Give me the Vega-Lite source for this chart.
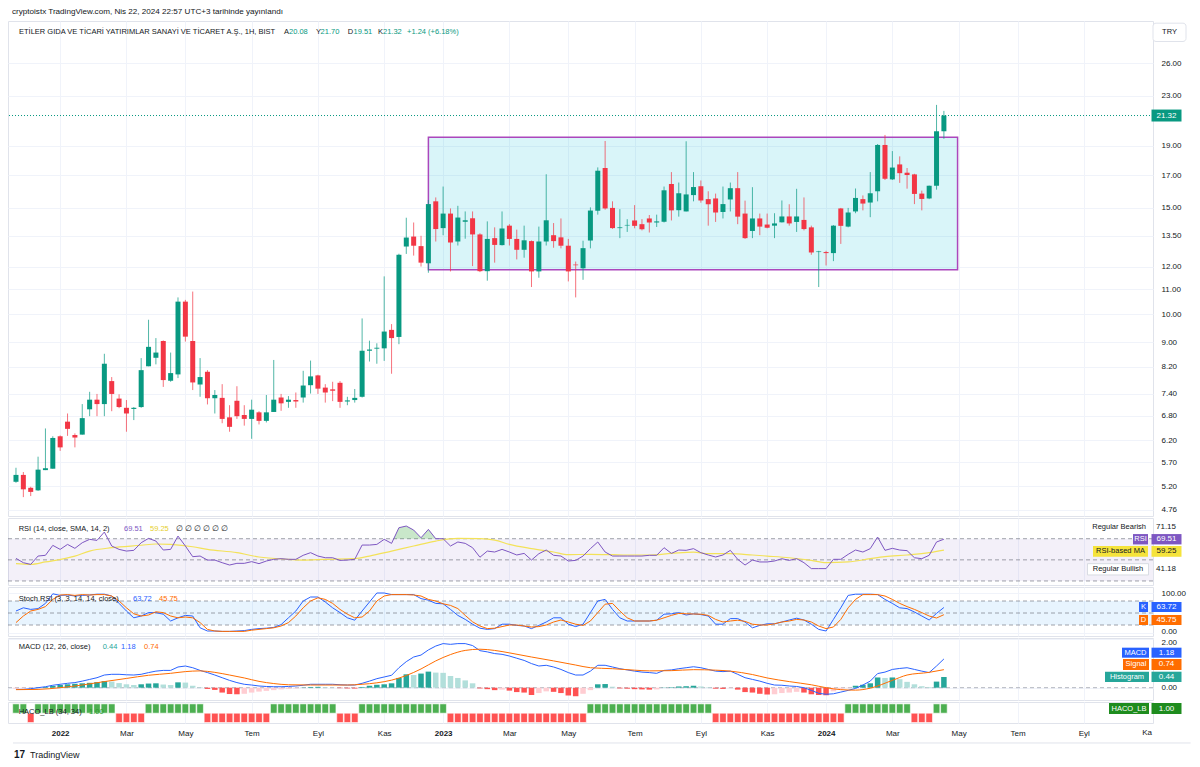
{
"$schema": "https://vega.github.io/schema/vega-lite/v6.json",
"background": "white",
"padding": {"left": 7, "top": 7, "right": 5, "bottom": 5},
"spacing": 2,
"bounds": "flush",
"config": {"view": {"stroke": "#e0e3eb", "fill": "white"}, "font": "Liberation Sans", "text": {"font": "Liberation Sans"}, "axis": {"labelFont": "Liberation Sans"}},
"resolve": {"scale": {"x": "independent", "y": "independent"}},
"datasets": {
"w": [
{"d":"2021-11-22","o":5.29,"h":5.58,"l":5.27,"c":5.43,"r":51.4,"k":55,"s":26,"m":-0.07,"hi":-0.04,"ha":1},
{"d":"2021-11-29","o":5.43,"h":5.49,"l":4.99,"c":5.14,"r":47.3,"k":63,"s":42.5,"m":-0.07,"hi":-0.03,"ha":1},
{"d":"2021-12-06","o":5.17,"h":5.19,"l":5.01,"c":5.09,"r":45.7,"k":59,"s":55,"m":-0.04,"hi":-0.02,"ha":-1},
{"d":"2021-12-13","o":5.12,"h":5.82,"l":5.11,"c":5.54,"r":53.6,"k":61,"s":59,"m":0,"hi":0.01,"ha":1},
{"d":"2021-12-20","o":5.53,"h":6.48,"l":5.53,"c":5.57,"r":54.3,"k":74,"s":66,"m":0.04,"hi":0.03,"ha":1},
{"d":"2021-12-27","o":5.56,"h":6.29,"l":5.56,"c":6.25,"r":63.7,"k":98,"s":84,"m":0.10,"hi":0.07,"ha":1},
{"d":"2022-01-03","o":6.29,"h":6.31,"l":5.95,"c":6.03,"r":59.9,"k":94,"s":95,"m":0.14,"hi":0.11,"ha":1},
{"d":"2022-01-10","o":6.65,"h":6.86,"l":6.30,"c":6.47,"r":64.6,"k":95,"s":96,"m":0.18,"hi":0.14,"ha":1},
{"d":"2022-01-17","o":6.32,"h":6.36,"l":6.03,"c":6.26,"r":60.9,"k":92.5,"s":94,"m":0.21,"hi":0.16,"ha":1},
{"d":"2022-01-24","o":6.33,"h":7.11,"l":6.33,"c":6.74,"r":66.2,"k":94,"s":96,"m":0.27,"hi":0.18,"ha":1},
{"d":"2022-01-31","o":6.97,"h":7.45,"l":6.79,"c":7.23,"r":69.4,"k":95,"s":95,"m":0.34,"hi":0.20,"ha":1},
{"d":"2022-02-07","o":7.23,"h":7.39,"l":6.79,"c":7.11,"r":68.4,"k":97,"s":96,"m":0.41,"hi":0.23,"ha":1},
{"d":"2022-02-14","o":7.11,"h":8.61,"l":6.79,"c":8.29,"r":76.3,"k":97,"s":96,"m":0.52,"hi":0.27,"ha":1},
{"d":"2022-02-21","o":7.76,"h":7.88,"l":6.92,"c":7.39,"r":63.1,"k":92.5,"s":92.5,"m":0.55,"hi":0.25,"ha":1},
{"d":"2022-02-28","o":7.26,"h":7.38,"l":7.00,"c":7.03,"r":59.9,"k":74,"s":80,"m":0.55,"hi":0.19,"ha":-1},
{"d":"2022-03-07","o":7.01,"h":7.22,"l":6.40,"c":6.86,"r":58.3,"k":55,"s":63,"m":0.53,"hi":0.14,"ha":-1},
{"d":"2022-03-14","o":6.98,"h":7.03,"l":6.69,"c":7.01,"r":59.0,"k":38,"s":48,"m":0.52,"hi":0.11,"ha":-1},
{"d":"2022-03-21","o":7.03,"h":8.47,"l":7.01,"c":8.09,"r":66.2,"k":42.5,"s":42.5,"m":0.55,"hi":0.14,"ha":-1},
{"d":"2022-03-28","o":8.21,"h":9.80,"l":8.21,"c":8.84,"r":70.3,"k":51,"s":45,"m":0.62,"hi":0.17,"ha":1},
{"d":"2022-04-04","o":8.48,"h":9.14,"l":8.27,"c":8.65,"r":67.8,"k":51,"s":53,"m":0.68,"hi":0.18,"ha":1},
{"d":"2022-04-11","o":9.04,"h":9.06,"l":7.59,"c":7.79,"r":59.3,"k":47,"s":51,"m":0.71,"hi":0.13,"ha":1},
{"d":"2022-04-18","o":7.77,"h":8.65,"l":7.74,"c":8.00,"r":59.9,"k":30,"s":42.5,"m":0.71,"hi":0.11,"ha":1},
{"d":"2022-04-25","o":7.96,"h":10.67,"l":7.85,"c":10.50,"r":72.5,"k":38,"s":38,"m":0.85,"hi":0.22,"ha":1},
{"d":"2022-05-02","o":10.50,"h":10.57,"l":9.02,"c":9.19,"r":63.1,"k":44,"s":40,"m":0.89,"hi":0.21,"ha":1},
{"d":"2022-05-09","o":9.04,"h":10.91,"l":7.50,"c":7.72,"r":53.0,"k":42.5,"s":38,"m":0.82,"hi":0.08,"ha":1},
{"d":"2022-05-16","o":7.66,"h":8.47,"l":7.31,"c":7.88,"r":53.6,"k":13,"s":26,"m":0.71,"hi":0.02,"ha":1},
{"d":"2022-05-23","o":8.04,"h":8.09,"l":7.10,"c":7.27,"r":49.8,"k":5,"s":9,"m":0.62,"hi":-0.05,"ha":-1},
{"d":"2022-05-30","o":7.27,"h":7.50,"l":6.86,"c":7.36,"r":49.8,"k":5,"s":5,"m":0.52,"hi":-0.09,"ha":-1},
{"d":"2022-06-06","o":7.28,"h":7.67,"l":6.61,"c":6.72,"r":47.3,"k":4,"s":4,"m":0.41,"hi":-0.20,"ha":-1},
{"d":"2022-06-13","o":6.76,"h":7.08,"l":6.40,"c":6.52,"r":45.1,"k":4,"s":4,"m":0.30,"hi":-0.26,"ha":-1},
{"d":"2022-06-20","o":7.20,"h":7.61,"l":6.72,"c":6.79,"r":46.7,"k":5,"s":4,"m":0.21,"hi":-0.27,"ha":-1},
{"d":"2022-06-27","o":6.82,"h":7.08,"l":6.55,"c":6.72,"r":46.7,"k":6,"s":4,"m":0.14,"hi":-0.25,"ha":-1},
{"d":"2022-07-04","o":6.72,"h":7.23,"l":6.23,"c":6.96,"r":48.3,"k":9,"s":7,"m":0.11,"hi":-0.20,"ha":-1},
{"d":"2022-07-11","o":6.89,"h":6.92,"l":6.58,"c":6.67,"r":46.4,"k":11,"s":9,"m":0.07,"hi":-0.16,"ha":-1},
{"d":"2022-07-18","o":6.67,"h":7.36,"l":6.63,"c":6.89,"r":48.9,"k":12,"s":11,"m":0.05,"hi":-0.13,"ha":-1},
{"d":"2022-07-25","o":6.90,"h":8.41,"l":6.90,"c":7.23,"r":50.5,"k":14,"s":13,"m":0.04,"hi":-0.10,"ha":1},
{"d":"2022-08-01","o":7.29,"h":7.39,"l":6.93,"c":7.13,"r":51.1,"k":21,"s":17.5,"m":0.04,"hi":-0.07,"ha":1},
{"d":"2022-08-08","o":7.17,"h":7.33,"l":7.01,"c":7.23,"r":50.5,"k":38,"s":26,"m":0.05,"hi":-0.05,"ha":1},
{"d":"2022-08-15","o":7.22,"h":7.43,"l":7.01,"c":7.18,"r":50.5,"k":55,"s":42.5,"m":0.07,"hi":-0.03,"ha":1},
{"d":"2022-08-22","o":7.29,"h":8.07,"l":7.15,"c":7.63,"r":54.3,"k":80,"s":63,"m":0.10,"hi":0.01,"ha":1},
{"d":"2022-08-29","o":7.64,"h":8.39,"l":7.40,"c":7.90,"r":56.8,"k":90,"s":80,"m":0.14,"hi":0.03,"ha":1},
{"d":"2022-09-05","o":7.93,"h":7.95,"l":7.39,"c":7.54,"r":53.6,"k":90,"s":88,"m":0.14,"hi":0.035,"ha":1},
{"d":"2022-09-12","o":7.57,"h":7.67,"l":7.15,"c":7.43,"r":52.0,"k":77.5,"s":84,"m":0.14,"hi":0.02,"ha":1},
{"d":"2022-09-19","o":7.52,"h":7.74,"l":7.19,"c":7.48,"r":52.0,"k":63,"s":74,"m":0.14,"hi":0.01,"ha":1},
{"d":"2022-09-26","o":7.71,"h":7.76,"l":7.01,"c":7.17,"r":49.5,"k":51,"s":59,"m":0.12,"hi":-0.02,"ha":-1},
{"d":"2022-10-03","o":7.18,"h":7.31,"l":7.08,"c":7.21,"r":49.8,"k":38,"s":47,"m":0.11,"hi":-0.03,"ha":-1},
{"d":"2022-10-10","o":7.22,"h":7.53,"l":7.15,"c":7.28,"r":50.5,"k":32,"s":38,"m":0.11,"hi":-0.035,"ha":-1},
{"d":"2022-10-17","o":7.31,"h":9.85,"l":7.29,"c":8.71,"r":64.0,"k":55,"s":40,"m":0.18,"hi":0.03,"ha":1},
{"d":"2022-10-24","o":8.71,"h":9.05,"l":8.36,"c":8.75,"r":64.0,"k":77.5,"s":55,"m":0.27,"hi":0.08,"ha":1},
{"d":"2022-10-31","o":8.78,"h":8.96,"l":8.29,"c":8.81,"r":64.6,"k":100,"s":80,"m":0.37,"hi":0.12,"ha":1},
{"d":"2022-11-07","o":8.79,"h":11.56,"l":8.38,"c":9.37,"r":69.4,"k":100,"s":92.5,"m":0.44,"hi":0.14,"ha":1},
{"d":"2022-11-14","o":9.43,"h":9.64,"l":7.98,"c":9.14,"r":65.6,"k":96,"s":96,"m":0.51,"hi":0.18,"ha":1},
{"d":"2022-11-21","o":9.18,"h":12.6,"l":8.93,"c":12.55,"r":80.4,"k":96,"s":96,"m":0.82,"hi":0.40,"ha":1},
{"d":"2022-11-28","o":12.95,"h":14.45,"l":12.59,"c":13.40,"r":82.0,"k":96,"s":96,"m":1.07,"hi":0.55,"ha":1},
{"d":"2022-12-05","o":13.45,"h":14.19,"l":12.51,"c":12.99,"r":78.2,"k":96,"s":95,"m":1.26,"hi":0.52,"ha":1},
{"d":"2022-12-12","o":12.97,"h":13.49,"l":12.00,"c":12.18,"r":70.9,"k":86,"s":92.5,"m":1.34,"hi":0.58,"ha":1},
{"d":"2022-12-19","o":12.15,"h":15.46,"l":11.72,"c":15.22,"r":78.8,"k":82,"s":84,"m":1.55,"hi":0.66,"ha":1},
{"d":"2022-12-26","o":15.38,"h":15.61,"l":13.20,"c":13.84,"r":70.0,"k":74,"s":80,"m":1.71,"hi":0.62,"ha":1},
{"d":"2023-01-02","o":13.89,"h":16.27,"l":13.52,"c":14.68,"r":70.0,"k":73,"s":73,"m":1.81,"hi":0.61,"ha":1},
{"d":"2023-01-09","o":14.68,"h":14.97,"l":11.78,"c":13.15,"r":63.1,"k":59,"s":69,"m":1.78,"hi":0.48,"ha":-1},
{"d":"2023-01-16","o":13.20,"h":15.12,"l":13.00,"c":14.46,"r":66.9,"k":44,"s":61,"m":1.81,"hi":0.40,"ha":-1},
{"d":"2023-01-23","o":14.23,"h":14.80,"l":13.34,"c":14.31,"r":65.6,"k":34,"s":44,"m":1.81,"hi":0.30,"ha":-1},
{"d":"2023-01-30","o":14.42,"h":14.80,"l":12.02,"c":13.56,"r":61.5,"k":22,"s":28,"m":1.73,"hi":0.18,"ha":-1},
{"d":"2023-02-06","o":13.56,"h":13.62,"l":11.75,"c":11.79,"r":52.5,"k":12,"s":17.5,"m":1.52,"hi":-0.03,"ha":-1},
{"d":"2023-02-13","o":11.79,"h":14.25,"l":11.37,"c":13.33,"r":58.3,"k":9,"s":11,"m":1.47,"hi":-0.06,"ha":-1},
{"d":"2023-02-20","o":13.37,"h":13.93,"l":12.18,"c":13.03,"r":57.4,"k":11,"s":12,"m":1.40,"hi":-0.10,"ha":-1},
{"d":"2023-02-27","o":13.02,"h":14.80,"l":13.00,"c":13.87,"r":59.9,"k":22,"s":16,"m":1.37,"hi":-0.08,"ha":-1},
{"d":"2023-03-06","o":14.02,"h":14.10,"l":13.00,"c":13.33,"r":57.4,"k":22,"s":20,"m":1.30,"hi":-0.12,"ha":-1},
{"d":"2023-03-13","o":13.33,"h":13.81,"l":12.33,"c":12.79,"r":54.6,"k":19,"s":20,"m":1.21,"hi":-0.18,"ha":-1},
{"d":"2023-03-20","o":12.79,"h":14.02,"l":12.41,"c":13.26,"r":56.1,"k":17.5,"s":17.5,"m":1.12,"hi":-0.20,"ha":-1},
{"d":"2023-03-27","o":13.22,"h":13.25,"l":11.10,"c":11.78,"r":49.8,"k":11,"s":15,"m":0.99,"hi":-0.30,"ha":-1},
{"d":"2023-04-03","o":11.78,"h":13.97,"l":11.50,"c":13.20,"r":55.8,"k":19,"s":16,"m":0.89,"hi":-0.22,"ha":-1},
{"d":"2023-04-10","o":13.20,"h":17.05,"l":13.00,"c":14.31,"r":59.3,"k":27.5,"s":20,"m":0.92,"hi":-0.15,"ha":-1},
{"d":"2023-04-17","o":13.52,"h":14.16,"l":12.89,"c":13.22,"r":54.3,"k":38,"s":27.5,"m":0.85,"hi":-0.17,"ha":-1},
{"d":"2023-04-24","o":13.41,"h":14.41,"l":12.86,"c":12.99,"r":53.6,"k":38,"s":32.5,"m":0.75,"hi":-0.22,"ha":-1},
{"d":"2023-05-01","o":12.99,"h":13.33,"l":11.34,"c":11.78,"r":48.9,"k":22,"s":27.5,"m":0.62,"hi":-0.32,"ha":-1},
{"d":"2023-05-08","o":12.09,"h":12.23,"l":10.67,"c":12.06,"r":49.5,"k":16,"s":22,"m":0.52,"hi":-0.35,"ha":-1},
{"d":"2023-05-15","o":11.92,"h":13.24,"l":11.41,"c":12.87,"r":53.6,"k":22,"s":19,"m":0.52,"hi":-0.25,"ha":-1},
{"d":"2023-05-22","o":13.25,"h":15.03,"l":12.86,"c":14.85,"r":60.6,"k":51,"s":30,"m":0.68,"hi":-0.10,"ha":1},
{"d":"2023-05-29","o":14.84,"h":17.50,"l":14.62,"c":17.28,"r":66.9,"k":80,"s":51,"m":0.92,"hi":0.14,"ha":1},
{"d":"2023-06-05","o":17.46,"h":19.35,"l":14.90,"c":14.97,"r":57.4,"k":84,"s":72,"m":0.92,"hi":0.15,"ha":1},
{"d":"2023-06-12","o":15.00,"h":15.38,"l":13.85,"c":13.89,"r":53.6,"k":59,"s":74,"m":0.85,"hi":0.04,"ha":1},
{"d":"2023-06-19","o":13.89,"h":14.93,"l":13.37,"c":13.93,"r":53.6,"k":38,"s":55,"m":0.78,"hi":-0.03,"ha":1},
{"d":"2023-06-26","o":14.03,"h":14.37,"l":13.69,"c":14.06,"r":53.6,"k":30,"s":38,"m":0.73,"hi":-0.04,"ha":1},
{"d":"2023-07-03","o":14.30,"h":15.16,"l":13.88,"c":14.01,"r":53.6,"k":30,"s":30,"m":0.68,"hi":-0.06,"ha":1},
{"d":"2023-07-10","o":14.10,"h":14.37,"l":13.77,"c":13.83,"r":53.6,"k":30,"s":30,"m":0.64,"hi":-0.07,"ha":1},
{"d":"2023-07-17","o":14.41,"h":14.60,"l":13.66,"c":14.19,"r":54.3,"k":30,"s":30,"m":0.62,"hi":-0.08,"ha":1},
{"d":"2023-07-24","o":14.19,"h":14.62,"l":13.95,"c":14.25,"r":54.3,"k":32,"s":32,"m":0.59,"hi":-0.07,"ha":1},
{"d":"2023-07-31","o":14.23,"h":16.27,"l":14.19,"c":16.04,"r":61.5,"k":47,"s":38,"m":0.71,"hi":0.01,"ha":1},
{"d":"2023-08-07","o":16.43,"h":17.19,"l":14.30,"c":14.86,"r":56.1,"k":48,"s":44,"m":0.73,"hi":0.02,"ha":1},
{"d":"2023-08-14","o":14.87,"h":16.52,"l":14.51,"c":15.86,"r":59.3,"k":51,"s":49,"m":0.78,"hi":0.05,"ha":1},
{"d":"2023-08-21","o":14.80,"h":19.33,"l":14.80,"c":15.79,"r":59.0,"k":45,"s":48,"m":0.82,"hi":0.06,"ha":1},
{"d":"2023-08-28","o":15.75,"h":17.19,"l":15.38,"c":16.24,"r":60.6,"k":48,"s":47.5,"m":0.86,"hi":0.08,"ha":1},
{"d":"2023-09-04","o":16.29,"h":16.65,"l":15.30,"c":15.43,"r":56.8,"k":46,"s":47,"m":0.82,"hi":0.05,"ha":1},
{"d":"2023-09-11","o":15.51,"h":15.98,"l":14.02,"c":15.21,"r":54.6,"k":42.5,"s":44,"m":0.75,"hi":0.02,"ha":1},
{"d":"2023-09-18","o":15.55,"h":15.84,"l":14.22,"c":14.74,"r":52.7,"k":22,"s":34,"m":0.68,"hi":-0.04,"ha":-1},
{"d":"2023-09-25","o":14.77,"h":16.27,"l":14.41,"c":15.22,"r":54.6,"k":22,"s":27.5,"m":0.66,"hi":-0.05,"ha":-1},
{"d":"2023-10-02","o":15.49,"h":16.52,"l":14.80,"c":16.17,"r":59.0,"k":36,"s":30,"m":0.68,"hi":-0.02,"ha":-1},
{"d":"2023-10-09","o":16.17,"h":17.19,"l":14.10,"c":14.51,"r":50.5,"k":36,"s":32,"m":0.55,"hi":-0.08,"ha":-1},
{"d":"2023-10-16","o":14.68,"h":15.42,"l":13.33,"c":13.37,"r":45.1,"k":27.5,"s":29,"m":0.41,"hi":-0.18,"ha":-1},
{"d":"2023-10-23","o":13.74,"h":16.23,"l":13.37,"c":14.41,"r":49.8,"k":13,"s":22,"m":0.34,"hi":-0.20,"ha":-1},
{"d":"2023-10-30","o":14.41,"h":14.68,"l":13.52,"c":13.97,"r":48.0,"k":19,"s":20,"m":0.27,"hi":-0.25,"ha":-1},
{"d":"2023-11-06","o":14.08,"h":14.68,"l":13.88,"c":13.91,"r":48.0,"k":23,"s":20,"m":0.18,"hi":-0.28,"ha":-1},
{"d":"2023-11-13","o":14.02,"h":14.70,"l":13.37,"c":14.14,"r":48.9,"k":23,"s":23,"m":0.11,"hi":-0.27,"ha":-1},
{"d":"2023-11-20","o":14.20,"h":15.43,"l":14.19,"c":14.52,"r":51.1,"k":27.5,"s":27.5,"m":0.10,"hi":-0.22,"ha":-1},
{"d":"2023-11-27","o":14.52,"h":15.21,"l":14.02,"c":14.14,"r":49.5,"k":32.5,"s":30,"m":0.07,"hi":-0.20,"ha":-1},
{"d":"2023-12-04","o":14.22,"h":16.13,"l":13.69,"c":14.52,"r":51.1,"k":37,"s":34,"m":0.05,"hi":-0.17,"ha":-1},
{"d":"2023-12-11","o":14.33,"h":15.61,"l":13.77,"c":13.84,"r":47.3,"k":32.5,"s":32.5,"m":0,"hi":-0.20,"ha":-1},
{"d":"2023-12-18","o":13.93,"h":14.02,"l":12.55,"c":12.66,"r":41.7,"k":22,"s":27.5,"m":-0.11,"hi":-0.27,"ha":-1},
{"d":"2023-12-25","o":12.68,"h":12.74,"l":11.10,"c":12.71,"r":41.7,"k":9,"s":17.5,"m":-0.23,"hi":-0.30,"ha":-1},
{"d":"2024-01-01","o":12.68,"h":12.74,"l":12.05,"c":12.63,"r":41.7,"k":5,"s":11,"m":-0.27,"hi":-0.31,"ha":-1},
{"d":"2024-01-08","o":12.63,"h":14.05,"l":12.25,"c":14.02,"r":50.5,"k":34,"s":15,"m":-0.25,"hi":-0.15,"ha":-1},
{"d":"2024-01-15","o":14.97,"h":15.00,"l":13.08,"c":14.01,"r":50.5,"k":63,"s":34,"m":-0.18,"hi":-0.05,"ha":-1},
{"d":"2024-01-22","o":13.97,"h":15.00,"l":13.93,"c":14.74,"r":55.2,"k":94,"s":63,"m":-0.11,"hi":-0.02,"ha":1},
{"d":"2024-01-29","o":14.80,"h":16.15,"l":14.70,"c":15.58,"r":59.3,"k":97,"s":84,"m":-0.03,"hi":0.08,"ha":1},
{"d":"2024-02-05","o":15.51,"h":15.73,"l":14.86,"c":15.25,"r":57.4,"k":97,"s":96,"m":0.11,"hi":0.12,"ha":1},
{"d":"2024-02-12","o":15.31,"h":17.19,"l":14.48,"c":15.86,"r":60.6,"k":97,"s":96,"m":0.27,"hi":0.18,"ha":1},
{"d":"2024-02-19","o":15.98,"h":19.13,"l":15.38,"c":19.06,"r":71.6,"k":96,"s":96,"m":0.58,"hi":0.42,"ha":1},
{"d":"2024-02-26","o":19.06,"h":19.80,"l":16.68,"c":16.76,"r":59.0,"k":84,"s":92.5,"m":0.64,"hi":0.40,"ha":1},
{"d":"2024-03-04","o":16.72,"h":18.62,"l":16.68,"c":17.49,"r":60.9,"k":74,"s":84,"m":0.75,"hi":0.42,"ha":1},
{"d":"2024-03-11","o":17.70,"h":18.25,"l":16.50,"c":17.12,"r":59.3,"k":63,"s":74,"m":0.79,"hi":0.35,"ha":1},
{"d":"2024-03-18","o":17.15,"h":17.46,"l":16.14,"c":17.00,"r":58.7,"k":61,"s":66,"m":0.82,"hi":0.24,"ha":1},
{"d":"2024-03-25","o":17.04,"h":17.08,"l":15.22,"c":15.82,"r":52.0,"k":52.5,"s":59,"m":0.75,"hi":0.14,"ha":-1},
{"d":"2024-04-01","o":15.84,"h":16.02,"l":14.86,"c":15.52,"r":51.1,"k":42.5,"s":51,"m":0.68,"hi":0.06,"ha":-1},
{"d":"2024-04-08","o":15.55,"h":16.33,"l":15.51,"c":16.32,"r":54.3,"k":32.5,"s":42.5,"m":0.62,"hi":0.03,"ha":-1},
{"d":"2024-04-15","o":16.32,"h":22.2,"l":16.08,"c":20.08,"r":66.9,"k":49,"s":37.5,"m":0.89,"hi":0.25,"ha":1},
{"d":"2024-04-22","o":20.08,"h":21.70,"l":19.51,"c":21.32,"r":69.51,"k":63.72,"s":45.75,"m":1.18,"hi":0.44,"ha":1}
],
"ma": [
{"d":"2021-11-22","v":46.4},{"d":"2021-12-06","v":45.7},{"d":"2021-12-20","v":48},{"d":"2022-01-17","v":53.5},{"d":"2022-01-31","v":58.3},{"d":"2022-02-21","v":61.5},{"d":"2022-03-21","v":63.8},{"d":"2022-04-04","v":65.0},{"d":"2022-04-18","v":64.6},{"d":"2022-05-09","v":62.4},{"d":"2022-05-23","v":59.9},{"d":"2022-06-20","v":56.8},{"d":"2022-07-11","v":52.7},{"d":"2022-08-08","v":50.5},{"d":"2022-08-22","v":49.8},{"d":"2022-09-12","v":50.5},{"d":"2022-10-10","v":51.1},{"d":"2022-10-24","v":53.6},{"d":"2022-11-14","v":58.3},{"d":"2022-12-05","v":63.1},{"d":"2022-12-26","v":67.8},{"d":"2023-01-16","v":70.3},{"d":"2023-02-06","v":70.0},{"d":"2023-02-20","v":68.7},{"d":"2023-03-06","v":64.6},{"d":"2023-03-27","v":60.6},{"d":"2023-04-17","v":57.4},{"d":"2023-05-01","v":54.9},{"d":"2023-05-22","v":55.2},{"d":"2023-06-12","v":54.9},{"d":"2023-06-26","v":54.6},{"d":"2023-07-17","v":54.6},{"d":"2023-08-07","v":56.1},{"d":"2023-08-28","v":57.4},{"d":"2023-09-11","v":55.8},{"d":"2023-10-02","v":55.8},{"d":"2023-10-23","v":54.6},{"d":"2023-11-06","v":53.6},{"d":"2023-11-27","v":52.0},{"d":"2023-12-18","v":49.5},{"d":"2024-01-01","v":47.3},{"d":"2024-01-22","v":48.0},{"d":"2024-02-12","v":51.1},{"d":"2024-02-26","v":53.0},{"d":"2024-03-18","v":54.6},{"d":"2024-04-08","v":56.8},{"d":"2024-04-22","v":59.25}
],
"sig": [
{"d":"2021-11-22","v":-0.08},{"d":"2021-12-13","v":-0.07},{"d":"2022-01-03","v":0.0},{"d":"2022-01-24","v":0.11},{"d":"2022-02-14","v":0.25},{"d":"2022-03-07","v":0.38},{"d":"2022-03-28","v":0.51},{"d":"2022-04-18","v":0.59},{"d":"2022-05-02","v":0.66},{"d":"2022-05-16","v":0.69},{"d":"2022-05-30","v":0.63},{"d":"2022-06-13","v":0.52},{"d":"2022-06-27","v":0.40},{"d":"2022-07-11","v":0.26},{"d":"2022-07-25","v":0.17},{"d":"2022-08-08","v":0.12},{"d":"2022-08-29","v":0.11},{"d":"2022-10-03","v":0.11},{"d":"2022-10-17","v":0.14},{"d":"2022-10-31","v":0.2},{"d":"2022-11-14","v":0.31},{"d":"2022-11-28","v":0.5},{"d":"2022-12-12","v":0.77},{"d":"2022-12-26","v":1.1},{"d":"2023-01-09","v":1.36},{"d":"2023-01-23","v":1.53},{"d":"2023-02-06","v":1.58},{"d":"2023-02-20","v":1.53},{"d":"2023-03-06","v":1.43},{"d":"2023-03-27","v":1.26},{"d":"2023-04-17","v":1.1},{"d":"2023-05-08","v":0.93},{"d":"2023-05-22","v":0.82},{"d":"2023-06-12","v":0.78},{"d":"2023-07-03","v":0.72},{"d":"2023-07-17","v":0.69},{"d":"2023-08-07","v":0.70},{"d":"2023-08-28","v":0.74},{"d":"2023-09-18","v":0.72},{"d":"2023-10-02","v":0.68},{"d":"2023-10-23","v":0.54},{"d":"2023-11-06","v":0.40},{"d":"2023-11-27","v":0.25},{"d":"2023-12-18","v":0.12},{"d":"2024-01-01","v":0.0},{"d":"2024-01-15","v":-0.08},{"d":"2024-01-29","v":-0.10},{"d":"2024-02-12","v":-0.02},{"d":"2024-03-04","v":0.30},{"d":"2024-03-18","v":0.52},{"d":"2024-04-08","v":0.63},{"d":"2024-04-22","v":0.74}
],
"ob": [
{"d":"2022-11-16","v":70},{"d":"2022-11-21","v":80.4},{"d":"2022-11-28","v":82.0},{"d":"2022-12-05","v":78.2},{"d":"2022-12-12","v":70.9},{"d":"2022-12-19","v":78.8},{"d":"2022-12-26","v":70.0}
]
},
"vconcat": [
{
"width": 1145, "height": 495,
"data": {"name": "w"},
"layer": [
{"data": {"values": [{}]}, "mark": {"type": "rect", "fill": "#00bcd4", "fillOpacity": 0.15, "stroke": "#ab47bc", "strokeWidth": 1.5},
 "encoding": {
  "x": {"datum": {"year":2022,"month":12,"date":19,"utc":true}, "type": "temporal", "scale": {"type": "utc", "domain": [{"year":2021,"month":11,"date":19,"hours":4,"utc":true},{"year":2024,"month":11,"date":2,"utc":true}]},
        "axis": {"values": [{"year":2022,"month":1,"date":3,"utc":true},{"year":2022,"month":3,"date":7,"utc":true},{"year":2022,"month":5,"date":2,"utc":true},{"year":2022,"month":7,"date":4,"utc":true},{"year":2022,"month":9,"date":5,"utc":true},{"year":2022,"month":11,"date":7,"utc":true},{"year":2023,"month":1,"date":2,"utc":true},{"year":2023,"month":3,"date":6,"utc":true},{"year":2023,"month":5,"date":1,"utc":true},{"year":2023,"month":7,"date":3,"utc":true},{"year":2023,"month":9,"date":4,"utc":true},{"year":2023,"month":11,"date":6,"utc":true},{"year":2024,"month":1,"date":1,"utc":true},{"year":2024,"month":3,"date":4,"utc":true},{"year":2024,"month":5,"date":6,"utc":true},{"year":2024,"month":7,"date":1,"utc":true},{"year":2024,"month":9,"date":2,"utc":true}], "labels": false, "ticks": false, "domain": false, "grid": true, "gridColor": "#f0f3fa", "title": null}},
  "x2": {"datum": {"year":2024,"month":5,"date":5,"utc":true}},
  "y": {"datum": 19.63, "type": "quantitative", "scale": {"type": "log", "domain": [4.644, 30.55], "nice": false, "zero": false},
        "axis": {"orient": "right", "values": [4.76,5.2,5.7,6.2,6.8,7.4,8.2,9,10,11,12,13.5,15,17,19,23,26], "format": ".2f", "grid": true, "gridColor": "#f0f3fa", "domain": false, "ticks": false, "labelPadding": 8, "labelFontSize": 8, "labelColor": "#131722", "title": null}},
  "y2": {"datum": 11.86}}},
{"mark": {"type": "rule", "strokeWidth": 1, "opacity": 0.7},
 "encoding": {"x": {"field": "d", "type": "temporal", "title": null}, "y": {"field": "l", "type": "quantitative", "title": null}, "y2": {"field": "h"},
  "color": {"condition": {"test": "datum.c >= datum.o", "value": "#089981"}, "value": "#f23645"}}},
{"mark": {"type": "bar", "width": 5},
 "encoding": {"x": {"field": "d", "type": "temporal", "title": null}, "y": {"field": "o", "type": "quantitative", "title": null}, "y2": {"field": "c"},
  "color": {"condition": {"test": "datum.c >= datum.o", "value": "#089981"}, "value": "#f23645"}}},
{"data": {"values": [{}]}, "mark": {"type": "rule", "color": "#089981", "strokeDash": [1, 2], "strokeWidth": 1}, "encoding": {"y": {"datum": 21.32}}},
{"data": {"values": [{}]}, "mark": {"type": "text", "text": "cryptoistx TradingView.com, Nis 22, 2024 22:57 UTC+3 tarihinde yayınlandı", "align": "left", "baseline": "middle", "fontSize": 8.1, "color": "#131722", "dx": -1},
 "encoding": {"x": {"datum": {"year":2021,"month":11,"date":19,"hours":4,"utc":true}, "type": "temporal"}, "y": {"datum": 31.61}}},
{"data": {"values": [{}]}, "mark": {"type": "text", "text": "ETİLER GIDA VE TİCARİ YATIRIMLAR SANAYİ VE TİCARET A.Ş., 1H, BIST", "align": "left", "baseline": "middle", "fontSize": 7.5, "color": "#131722", "dx": 6},
 "encoding": {"x": {"datum": {"year":2021,"month":11,"date":19,"hours":4,"utc":true}, "type": "temporal"}, "y": {"datum": 29.29}}},
{"data": {"values": [{}]}, "mark": {"type": "text", "text": "A", "align": "left", "baseline": "middle", "fontSize": 7.5, "color": "#131722", "dx": 271},
 "encoding": {"x": {"datum": {"year":2021,"month":11,"date":19,"hours":4,"utc":true}, "type": "temporal"}, "y": {"datum": 29.29}}},
{"data": {"values": [{}]}, "mark": {"type": "text", "text": "20.08", "align": "left", "baseline": "middle", "fontSize": 7.5, "color": "#089981", "dx": 276},
 "encoding": {"x": {"datum": {"year":2021,"month":11,"date":19,"hours":4,"utc":true}, "type": "temporal"}, "y": {"datum": 29.29}}},
{"data": {"values": [{}]}, "mark": {"type": "text", "text": "Y", "align": "left", "baseline": "middle", "fontSize": 7.5, "color": "#131722", "dx": 303},
 "encoding": {"x": {"datum": {"year":2021,"month":11,"date":19,"hours":4,"utc":true}, "type": "temporal"}, "y": {"datum": 29.29}}},
{"data": {"values": [{}]}, "mark": {"type": "text", "text": "21.70", "align": "left", "baseline": "middle", "fontSize": 7.5, "color": "#089981", "dx": 307.6},
 "encoding": {"x": {"datum": {"year":2021,"month":11,"date":19,"hours":4,"utc":true}, "type": "temporal"}, "y": {"datum": 29.29}}},
{"data": {"values": [{}]}, "mark": {"type": "text", "text": "D", "align": "left", "baseline": "middle", "fontSize": 7.5, "color": "#131722", "dx": 334.8},
 "encoding": {"x": {"datum": {"year":2021,"month":11,"date":19,"hours":4,"utc":true}, "type": "temporal"}, "y": {"datum": 29.29}}},
{"data": {"values": [{}]}, "mark": {"type": "text", "text": "19.51", "align": "left", "baseline": "middle", "fontSize": 7.5, "color": "#089981", "dx": 340.5},
 "encoding": {"x": {"datum": {"year":2021,"month":11,"date":19,"hours":4,"utc":true}, "type": "temporal"}, "y": {"datum": 29.29}}},
{"data": {"values": [{}]}, "mark": {"type": "text", "text": "K", "align": "left", "baseline": "middle", "fontSize": 7.5, "color": "#131722", "dx": 365},
 "encoding": {"x": {"datum": {"year":2021,"month":11,"date":19,"hours":4,"utc":true}, "type": "temporal"}, "y": {"datum": 29.29}}},
{"data": {"values": [{}]}, "mark": {"type": "text", "text": "21.32", "align": "left", "baseline": "middle", "fontSize": 7.5, "color": "#089981", "dx": 370},
 "encoding": {"x": {"datum": {"year":2021,"month":11,"date":19,"hours":4,"utc":true}, "type": "temporal"}, "y": {"datum": 29.29}}},
{"data": {"values": [{}]}, "mark": {"type": "text", "text": "+1.24 (+6.18%)", "align": "left", "baseline": "middle", "fontSize": 7.5, "color": "#089981", "dx": 394},
 "encoding": {"x": {"datum": {"year":2021,"month":11,"date":19,"hours":4,"utc":true}, "type": "temporal"}, "y": {"datum": 29.29}}},
{"data": {"values": [{}]}, "mark": {"type": "bar", "width": 30, "color": "#089981", "xOffset": 18.5},
 "encoding": {"x": {"datum": {"year":2024,"month":11,"date":2,"utc":true}, "type": "temporal"}, "y": {"datum": 21.81}, "y2": {"datum": 20.84}}},
{"data": {"values": [{}]}, "mark": {"type": "text", "text": "21.32", "align": "center", "baseline": "middle", "fontSize": 8, "color": "white", "dx": 18.5},
 "encoding": {"x": {"datum": {"year":2024,"month":11,"date":2,"utc":true}, "type": "temporal"}, "y": {"datum": 21.32}}},
{"data": {"values": [{}]}, "mark": {"type": "bar", "width": 33, "fill": "white", "stroke": "#e0e3eb", "strokeWidth": 1, "cornerRadius": 3, "xOffset": 21.5},
 "encoding": {"x": {"datum": {"year":2024,"month":11,"date":2,"utc":true}, "type": "temporal"}, "y": {"datum": 30.3}, "y2": {"datum": 28.26}}},
{"data": {"values": [{}]}, "mark": {"type": "text", "text": "TRY", "align": "center", "baseline": "middle", "fontSize": 7.5, "color": "#131722", "dx": 21.5},
 "encoding": {"x": {"datum": {"year":2024,"month":11,"date":2,"utc":true}, "type": "temporal"}, "y": {"datum": 29.3}}}
]
},
{
"width": 1145, "height": 67,
"data": {"name": "w"},
"layer": [
{"data": {"values": [{}]}, "mark": {"type": "rect", "color": "#7e57c2", "opacity": 0.09},
 "encoding": {"y": {"datum": 70, "type": "quantitative", "scale": {"domain": [26.2, 89.6], "nice": false, "zero": false}, "axis": {"orient": "right", "labels": false, "ticks": false, "domain": false, "grid": false, "title": null}}, "y2": {"datum": 30}}},
{"data": {"values": [{"v": 70}, {"v": 50}, {"v": 30}]}, "mark": {"type": "rule", "color": "#787b86", "strokeDash": [4, 3], "strokeWidth": 1, "opacity": 0.7},
 "encoding": {"y": {"field": "v", "type": "quantitative", "title": null}}},
{"data": {"name": "ob"}, "mark": {"type": "area", "color": "#4caf50", "opacity": 0.3},
 "encoding": {"x": {"field": "d", "type": "temporal", "title": null}, "y": {"field": "v", "type": "quantitative", "title": null}, "y2": {"datum": 70}}},
{"data": {"name": "ma"}, "mark": {"type": "line", "color": "#f3e259", "strokeWidth": 1.2, "interpolate": "monotone"},
 "encoding": {"x": {"field": "d", "type": "temporal", "title": null}, "y": {"field": "v", "type": "quantitative", "title": null}}},
{"mark": {"type": "line", "color": "#7e57c2", "strokeWidth": 1},
 "encoding": {"x": {"field": "d", "type": "temporal", "title": null, "scale": {"type": "utc", "domain": [{"year":2021,"month":11,"date":19,"hours":4,"utc":true},{"year":2024,"month":11,"date":2,"utc":true}]},
   "axis": {"values": [{"year":2022,"month":1,"date":3,"utc":true},{"year":2022,"month":3,"date":7,"utc":true},{"year":2022,"month":5,"date":2,"utc":true},{"year":2022,"month":7,"date":4,"utc":true},{"year":2022,"month":9,"date":5,"utc":true},{"year":2022,"month":11,"date":7,"utc":true},{"year":2023,"month":1,"date":2,"utc":true},{"year":2023,"month":3,"date":6,"utc":true},{"year":2023,"month":5,"date":1,"utc":true},{"year":2023,"month":7,"date":3,"utc":true},{"year":2023,"month":9,"date":4,"utc":true},{"year":2023,"month":11,"date":6,"utc":true},{"year":2024,"month":1,"date":1,"utc":true},{"year":2024,"month":3,"date":4,"utc":true},{"year":2024,"month":5,"date":6,"utc":true},{"year":2024,"month":7,"date":1,"utc":true},{"year":2024,"month":9,"date":2,"utc":true}], "labels": false, "ticks": false, "domain": false, "grid": true, "gridColor": "#f0f3fa", "title": null}},
  "y": {"field": "r", "type": "quantitative", "title": null}}},
{"data": {"values": [{}]}, "mark": {"type": "text", "text": "RSI (14, close, SMA, 14, 2)", "align": "left", "baseline": "middle", "fontSize": 7.5, "color": "#131722", "dx": 5.7},
 "encoding": {"x": {"datum": {"year":2021,"month":11,"date":19,"hours":4,"utc":true}, "type": "temporal"}, "y": {"datum": 79.2}}},
{"data": {"values": [{}]}, "mark": {"type": "text", "text": "69.51", "align": "left", "baseline": "middle", "fontSize": 7.5, "color": "#7e57c2", "dx": 111},
 "encoding": {"x": {"datum": {"year":2021,"month":11,"date":19,"hours":4,"utc":true}, "type": "temporal"}, "y": {"datum": 79.2}}},
{"data": {"values": [{}]}, "mark": {"type": "text", "text": "59.25", "align": "left", "baseline": "middle", "fontSize": 7.5, "color": "#e6cf2e", "dx": 137},
 "encoding": {"x": {"datum": {"year":2021,"month":11,"date":19,"hours":4,"utc":true}, "type": "temporal"}, "y": {"datum": 79.2}}},
{"data": {"values": [{}]}, "mark": {"type": "text", "text": "∅  ∅  ∅  ∅  ∅  ∅", "align": "left", "baseline": "middle", "fontSize": 7.5, "color": "#131722", "dx": 163},
 "encoding": {"x": {"datum": {"year":2021,"month":11,"date":19,"hours":4,"utc":true}, "type": "temporal"}, "y": {"datum": 79.2}}},
{"data": {"values": [{}]}, "mark": {"type": "text", "text": "Regular Bearish", "align": "right", "baseline": "middle", "fontSize": 7.5, "color": "#131722", "dx": -2},
 "encoding": {"x": {"datum": {"year":2024,"month":11,"date":2,"utc":true}, "type": "temporal"}, "y": {"datum": 81.5}}},
{"data": {"values": [{}]}, "mark": {"type": "text", "text": "71.15", "align": "left", "baseline": "middle", "fontSize": 8, "color": "#131722", "dx": 8},
 "encoding": {"x": {"datum": {"year":2024,"month":11,"date":2,"utc":true}, "type": "temporal"}, "y": {"datum": 81.5}}},
{"data": {"values": [{}]}, "mark": {"type": "bar", "width": 15, "color": "#7e57c2", "xOffset": -7.5},
 "encoding": {"x": {"datum": {"year":2024,"month":11,"date":2,"utc":true}, "type": "temporal"}, "y": {"datum": 74.4}, "y2": {"datum": 64.6}}},
{"data": {"values": [{}]}, "mark": {"type": "text", "text": "RSI", "align": "center", "baseline": "middle", "fontSize": 7.5, "color": "white", "dx": -7.5},
 "encoding": {"x": {"datum": {"year":2024,"month":11,"date":2,"utc":true}, "type": "temporal"}, "y": {"datum": 69.51}}},
{"data": {"values": [{}]}, "mark": {"type": "bar", "width": 30, "color": "#7e57c2", "xOffset": 18.5},
 "encoding": {"x": {"datum": {"year":2024,"month":11,"date":2,"utc":true}, "type": "temporal"}, "y": {"datum": 74.4}, "y2": {"datum": 64.6}}},
{"data": {"values": [{}]}, "mark": {"type": "text", "text": "69.51", "align": "center", "baseline": "middle", "fontSize": 8, "color": "white", "dx": 18.5},
 "encoding": {"x": {"datum": {"year":2024,"month":11,"date":2,"utc":true}, "type": "temporal"}, "y": {"datum": 69.51}}},
{"data": {"values": [{}]}, "mark": {"type": "bar", "width": 55, "color": "#f5e33b", "xOffset": -27.5},
 "encoding": {"x": {"datum": {"year":2024,"month":11,"date":2,"utc":true}, "type": "temporal"}, "y": {"datum": 63.1}, "y2": {"datum": 52.9}}},
{"data": {"values": [{}]}, "mark": {"type": "text", "text": "RSI-based MA", "align": "center", "baseline": "middle", "fontSize": 7.5, "color": "#131722", "dx": -27.5},
 "encoding": {"x": {"datum": {"year":2024,"month":11,"date":2,"utc":true}, "type": "temporal"}, "y": {"datum": 58}}},
{"data": {"values": [{}]}, "mark": {"type": "bar", "width": 30, "color": "#f5e33b", "xOffset": 18.5},
 "encoding": {"x": {"datum": {"year":2024,"month":11,"date":2,"utc":true}, "type": "temporal"}, "y": {"datum": 63.1}, "y2": {"datum": 52.9}}},
{"data": {"values": [{}]}, "mark": {"type": "text", "text": "59.25", "align": "center", "baseline": "middle", "fontSize": 8, "color": "#131722", "dx": 18.5},
 "encoding": {"x": {"datum": {"year":2024,"month":11,"date":2,"utc":true}, "type": "temporal"}, "y": {"datum": 58}}},
{"data": {"values": [{}]}, "mark": {"type": "bar", "width": 61, "fill": "white", "stroke": "#d1d4dc", "strokeWidth": 0.8, "xOffset": -30},
 "encoding": {"x": {"datum": {"year":2024,"month":11,"date":2,"utc":true}, "type": "temporal"}, "y": {"datum": 46.4}, "y2": {"datum": 35.7}}},
{"data": {"values": [{}]}, "mark": {"type": "text", "text": "Regular Bullish", "align": "center", "baseline": "middle", "fontSize": 7.5, "color": "#131722", "dx": -30},
 "encoding": {"x": {"datum": {"year":2024,"month":11,"date":2,"utc":true}, "type": "temporal"}, "y": {"datum": 41}}},
{"data": {"values": [{}]}, "mark": {"type": "text", "text": "41.18", "align": "left", "baseline": "middle", "fontSize": 8, "color": "#131722", "dx": 8},
 "encoding": {"x": {"datum": {"year":2024,"month":11,"date":2,"utc":true}, "type": "temporal"}, "y": {"datum": 41}}}
]
},
{
"width": 1145, "height": 49,
"data": {"name": "w"},
"layer": [
{"data": {"values": [{}]}, "mark": {"type": "rect", "color": "#2196f3", "opacity": 0.1},
 "encoding": {"y": {"datum": 80, "type": "quantitative", "scale": {"domain": [-7.5, 115], "nice": false, "zero": false},
   "axis": {"orient": "right", "values": [0, 100], "format": ".2f", "grid": true, "gridColor": "#f0f3fa", "domain": false, "ticks": false, "labelPadding": 8, "labelFontSize": 8, "labelColor": "#131722", "labelBaseline": {"condition": {"test": "datum.value == 0", "value": "alphabetic"}, "value": "middle"}, "title": null}}, "y2": {"datum": 20}}},
{"data": {"values": [{"v": 80}, {"v": 50}, {"v": 20}]}, "mark": {"type": "rule", "color": "#787b86", "strokeDash": [4, 3], "strokeWidth": 1, "opacity": 0.7},
 "encoding": {"y": {"field": "v", "type": "quantitative", "title": null}}},
{"mark": {"type": "line", "color": "#2962ff", "strokeWidth": 1},
 "encoding": {"x": {"field": "d", "type": "temporal", "title": null, "scale": {"type": "utc", "domain": [{"year":2021,"month":11,"date":19,"hours":4,"utc":true},{"year":2024,"month":11,"date":2,"utc":true}]},
   "axis": {"values": [{"year":2022,"month":1,"date":3,"utc":true},{"year":2022,"month":3,"date":7,"utc":true},{"year":2022,"month":5,"date":2,"utc":true},{"year":2022,"month":7,"date":4,"utc":true},{"year":2022,"month":9,"date":5,"utc":true},{"year":2022,"month":11,"date":7,"utc":true},{"year":2023,"month":1,"date":2,"utc":true},{"year":2023,"month":3,"date":6,"utc":true},{"year":2023,"month":5,"date":1,"utc":true},{"year":2023,"month":7,"date":3,"utc":true},{"year":2023,"month":9,"date":4,"utc":true},{"year":2023,"month":11,"date":6,"utc":true},{"year":2024,"month":1,"date":1,"utc":true},{"year":2024,"month":3,"date":4,"utc":true},{"year":2024,"month":5,"date":6,"utc":true},{"year":2024,"month":7,"date":1,"utc":true},{"year":2024,"month":9,"date":2,"utc":true}], "labels": false, "ticks": false, "domain": false, "grid": true, "gridColor": "#f0f3fa", "title": null}},
  "y": {"field": "k", "type": "quantitative", "title": null}}},
{"mark": {"type": "line", "color": "#ff6d00", "strokeWidth": 1},
 "encoding": {"x": {"field": "d", "type": "temporal", "title": null}, "y": {"field": "s", "type": "quantitative", "title": null}}},
{"data": {"values": [{}]}, "mark": {"type": "text", "text": "Stoch RSI (3, 3, 14, 14, close)", "align": "left", "baseline": "middle", "fontSize": 7.5, "color": "#131722", "dx": 5.7},
 "encoding": {"x": {"datum": {"year":2021,"month":11,"date":19,"hours":4,"utc":true}, "type": "temporal"}, "y": {"datum": 85.75}}},
{"data": {"values": [{}]}, "mark": {"type": "text", "text": "63.72", "align": "left", "baseline": "middle", "fontSize": 7.5, "color": "#2962ff", "dx": 120},
 "encoding": {"x": {"datum": {"year":2021,"month":11,"date":19,"hours":4,"utc":true}, "type": "temporal"}, "y": {"datum": 85.75}}},
{"data": {"values": [{}]}, "mark": {"type": "text", "text": "45.75", "align": "left", "baseline": "middle", "fontSize": 7.5, "color": "#ff6d00", "dx": 146},
 "encoding": {"x": {"datum": {"year":2021,"month":11,"date":19,"hours":4,"utc":true}, "type": "temporal"}, "y": {"datum": 85.75}}},
{"data": {"values": [{}]}, "mark": {"type": "bar", "width": 9, "color": "#2962ff", "xOffset": -4.5},
 "encoding": {"x": {"datum": {"year":2024,"month":11,"date":2,"utc":true}, "type": "temporal"}, "y": {"datum": 77.5}, "y2": {"datum": 52.5}}},
{"data": {"values": [{}]}, "mark": {"type": "text", "text": "K", "align": "center", "baseline": "middle", "fontSize": 7.5, "color": "white", "dx": -4.5},
 "encoding": {"x": {"datum": {"year":2024,"month":11,"date":2,"utc":true}, "type": "temporal"}, "y": {"datum": 65}}},
{"data": {"values": [{}]}, "mark": {"type": "bar", "width": 30, "color": "#2962ff", "xOffset": 18.5},
 "encoding": {"x": {"datum": {"year":2024,"month":11,"date":2,"utc":true}, "type": "temporal"}, "y": {"datum": 77.5}, "y2": {"datum": 52.5}}},
{"data": {"values": [{}]}, "mark": {"type": "text", "text": "63.72", "align": "center", "baseline": "middle", "fontSize": 8, "color": "white", "dx": 18.5},
 "encoding": {"x": {"datum": {"year":2024,"month":11,"date":2,"utc":true}, "type": "temporal"}, "y": {"datum": 65}}},
{"data": {"values": [{}]}, "mark": {"type": "bar", "width": 9, "color": "#ff6d00", "xOffset": -4.5},
 "encoding": {"x": {"datum": {"year":2024,"month":11,"date":2,"utc":true}, "type": "temporal"}, "y": {"datum": 45}, "y2": {"datum": 20}}},
{"data": {"values": [{}]}, "mark": {"type": "text", "text": "D", "align": "center", "baseline": "middle", "fontSize": 7.5, "color": "white", "dx": -4.5},
 "encoding": {"x": {"datum": {"year":2024,"month":11,"date":2,"utc":true}, "type": "temporal"}, "y": {"datum": 32.5}}},
{"data": {"values": [{}]}, "mark": {"type": "bar", "width": 30, "color": "#ff6d00", "xOffset": 18.5},
 "encoding": {"x": {"datum": {"year":2024,"month":11,"date":2,"utc":true}, "type": "temporal"}, "y": {"datum": 45}, "y2": {"datum": 20}}},
{"data": {"values": [{}]}, "mark": {"type": "text", "text": "45.75", "align": "center", "baseline": "middle", "fontSize": 8, "color": "white", "dx": 18.5},
 "encoding": {"x": {"datum": {"year":2024,"month":11,"date":2,"utc":true}, "type": "temporal"}, "y": {"datum": 32.5}}}
]
},
{
"width": 1145, "height": 62,
"data": {"name": "w"},
"layer": [
{"data": {"values": [{}]}, "mark": {"type": "rule", "color": "#b2b5be", "strokeDash": [4, 3], "strokeWidth": 1},
 "encoding": {"y": {"datum": 0, "type": "quantitative", "scale": {"domain": [-0.505, 2.04], "nice": false, "zero": false},
   "axis": {"orient": "right", "values": [0, 1, 2], "format": ".2f", "grid": true, "gridColor": "#f0f3fa", "domain": false, "ticks": false, "labelPadding": 8, "labelFontSize": 8, "labelColor": "#131722", "labelBaseline": {"condition": {"test": "datum.value == 2", "value": "top"}, "value": "middle"}, "title": null}}}},
{"transform": [{"window": [{"op": "lag", "field": "hi", "as": "ph"}], "sort": [{"field": "d"}]}],
 "mark": {"type": "bar", "width": 5.5},
 "encoding": {"x": {"field": "d", "type": "temporal", "title": null, "scale": {"type": "utc", "domain": [{"year":2021,"month":11,"date":19,"hours":4,"utc":true},{"year":2024,"month":11,"date":2,"utc":true}]},
   "axis": {"values": [{"year":2022,"month":1,"date":3,"utc":true},{"year":2022,"month":3,"date":7,"utc":true},{"year":2022,"month":5,"date":2,"utc":true},{"year":2022,"month":7,"date":4,"utc":true},{"year":2022,"month":9,"date":5,"utc":true},{"year":2022,"month":11,"date":7,"utc":true},{"year":2023,"month":1,"date":2,"utc":true},{"year":2023,"month":3,"date":6,"utc":true},{"year":2023,"month":5,"date":1,"utc":true},{"year":2023,"month":7,"date":3,"utc":true},{"year":2023,"month":9,"date":4,"utc":true},{"year":2023,"month":11,"date":6,"utc":true},{"year":2024,"month":1,"date":1,"utc":true},{"year":2024,"month":3,"date":4,"utc":true},{"year":2024,"month":5,"date":6,"utc":true},{"year":2024,"month":7,"date":1,"utc":true},{"year":2024,"month":9,"date":2,"utc":true}], "labels": false, "ticks": false, "domain": false, "grid": true, "gridColor": "#f0f3fa", "title": null}},
  "y": {"field": "hi", "type": "quantitative", "title": null}, "y2": {"datum": 0},
  "color": {"condition": [{"test": "datum.hi >= 0 && (datum.ph == null || datum.hi >= datum.ph)", "value": "#26a69a"}, {"test": "datum.hi >= 0", "value": "#b2dfdb"}, {"test": "datum.ph != null && datum.hi < datum.ph", "value": "#ff5252"}], "value": "#ffcdd2"}}},
{"mark": {"type": "line", "color": "#2962ff", "strokeWidth": 1},
 "encoding": {"x": {"field": "d", "type": "temporal", "title": null}, "y": {"field": "m", "type": "quantitative", "title": null}}},
{"data": {"name": "sig"}, "mark": {"type": "line", "color": "#ff6d00", "strokeWidth": 1, "interpolate": "monotone"},
 "encoding": {"x": {"field": "d", "type": "temporal", "title": null}, "y": {"field": "v", "type": "quantitative", "title": null}}},
{"data": {"values": [{}]}, "mark": {"type": "text", "text": "MACD (12, 26, close)", "align": "left", "baseline": "middle", "fontSize": 7.5, "color": "#131722", "dx": 5.7},
 "encoding": {"x": {"datum": {"year":2021,"month":11,"date":19,"hours":4,"utc":true}, "type": "temporal"}, "y": {"datum": 1.671}}},
{"data": {"values": [{}]}, "mark": {"type": "text", "text": "0.44", "align": "left", "baseline": "middle", "fontSize": 7.5, "color": "#26a69a", "dx": 89.7},
 "encoding": {"x": {"datum": {"year":2021,"month":11,"date":19,"hours":4,"utc":true}, "type": "temporal"}, "y": {"datum": 1.671}}},
{"data": {"values": [{}]}, "mark": {"type": "text", "text": "1.18", "align": "left", "baseline": "middle", "fontSize": 7.5, "color": "#2962ff", "dx": 108},
 "encoding": {"x": {"datum": {"year":2021,"month":11,"date":19,"hours":4,"utc":true}, "type": "temporal"}, "y": {"datum": 1.671}}},
{"data": {"values": [{}]}, "mark": {"type": "text", "text": "0.74", "align": "left", "baseline": "middle", "fontSize": 7.5, "color": "#ff6d00", "dx": 131},
 "encoding": {"x": {"datum": {"year":2021,"month":11,"date":19,"hours":4,"utc":true}, "type": "temporal"}, "y": {"datum": 1.671}}},
{"data": {"values": [{}]}, "mark": {"type": "bar", "width": 27, "color": "#2962ff", "xOffset": -12.5},
 "encoding": {"x": {"datum": {"year":2024,"month":11,"date":2,"utc":true}, "type": "temporal"}, "y": {"datum": 1.643}, "y2": {"datum": 1.232}}},
{"data": {"values": [{}]}, "mark": {"type": "text", "text": "MACD", "align": "center", "baseline": "middle", "fontSize": 7.5, "color": "white", "dx": -12.5},
 "encoding": {"x": {"datum": {"year":2024,"month":11,"date":2,"utc":true}, "type": "temporal"}, "y": {"datum": 1.437}}},
{"data": {"values": [{}]}, "mark": {"type": "bar", "width": 30, "color": "#2962ff", "xOffset": 18.5},
 "encoding": {"x": {"datum": {"year":2024,"month":11,"date":2,"utc":true}, "type": "temporal"}, "y": {"datum": 1.643}, "y2": {"datum": 1.232}}},
{"data": {"values": [{}]}, "mark": {"type": "text", "text": "1.18", "align": "center", "baseline": "middle", "fontSize": 8, "color": "white", "dx": 18.5},
 "encoding": {"x": {"datum": {"year":2024,"month":11,"date":2,"utc":true}, "type": "temporal"}, "y": {"datum": 1.437}}},
{"data": {"values": [{}]}, "mark": {"type": "bar", "width": 26, "color": "#ff6d00", "xOffset": -12},
 "encoding": {"x": {"datum": {"year":2024,"month":11,"date":2,"utc":true}, "type": "temporal"}, "y": {"datum": 1.179}, "y2": {"datum": 0.727}}},
{"data": {"values": [{}]}, "mark": {"type": "text", "text": "Signal", "align": "center", "baseline": "middle", "fontSize": 7.5, "color": "white", "dx": -12},
 "encoding": {"x": {"datum": {"year":2024,"month":11,"date":2,"utc":true}, "type": "temporal"}, "y": {"datum": 0.953}}},
{"data": {"values": [{}]}, "mark": {"type": "bar", "width": 30, "color": "#ff6d00", "xOffset": 18.5},
 "encoding": {"x": {"datum": {"year":2024,"month":11,"date":2,"utc":true}, "type": "temporal"}, "y": {"datum": 1.179}, "y2": {"datum": 0.727}}},
{"data": {"values": [{}]}, "mark": {"type": "text", "text": "0.74", "align": "center", "baseline": "middle", "fontSize": 8, "color": "white", "dx": 18.5},
 "encoding": {"x": {"datum": {"year":2024,"month":11,"date":2,"utc":true}, "type": "temporal"}, "y": {"datum": 0.953}}},
{"data": {"values": [{}]}, "mark": {"type": "bar", "width": 44, "color": "#26a69a", "xOffset": -21},
 "encoding": {"x": {"datum": {"year":2024,"month":11,"date":2,"utc":true}, "type": "temporal"}, "y": {"datum": 0.657}, "y2": {"datum": 0.234}}},
{"data": {"values": [{}]}, "mark": {"type": "text", "text": "Histogram", "align": "center", "baseline": "middle", "fontSize": 7.5, "color": "white", "dx": -21},
 "encoding": {"x": {"datum": {"year":2024,"month":11,"date":2,"utc":true}, "type": "temporal"}, "y": {"datum": 0.445}}},
{"data": {"values": [{}]}, "mark": {"type": "bar", "width": 30, "color": "#26a69a", "xOffset": 18.5},
 "encoding": {"x": {"datum": {"year":2024,"month":11,"date":2,"utc":true}, "type": "temporal"}, "y": {"datum": 0.657}, "y2": {"datum": 0.234}}},
{"data": {"values": [{}]}, "mark": {"type": "text", "text": "0.44", "align": "center", "baseline": "middle", "fontSize": 8, "color": "white", "dx": 18.5},
 "encoding": {"x": {"datum": {"year":2024,"month":11,"date":2,"utc":true}, "type": "temporal"}, "y": {"datum": 0.445}}}
]
},
{
"width": 1145, "height": 21,
"data": {"name": "w"},
"layer": [
{"mark": {"type": "bar", "width": 6.6, "stroke": "white", "strokeWidth": 0.6},
 "encoding": {"x": {"field": "d", "type": "temporal", "title": null, "scale": {"type": "utc", "domain": [{"year":2021,"month":11,"date":19,"hours":4,"utc":true},{"year":2024,"month":11,"date":2,"utc":true}]},
   "axis": {"values": [{"year":2022,"month":1,"date":3,"utc":true},{"year":2022,"month":3,"date":7,"utc":true},{"year":2022,"month":5,"date":2,"utc":true},{"year":2022,"month":7,"date":4,"utc":true},{"year":2022,"month":9,"date":5,"utc":true},{"year":2022,"month":11,"date":7,"utc":true},{"year":2023,"month":1,"date":2,"utc":true},{"year":2023,"month":3,"date":6,"utc":true},{"year":2023,"month":5,"date":1,"utc":true},{"year":2023,"month":7,"date":3,"utc":true},{"year":2023,"month":9,"date":4,"utc":true},{"year":2023,"month":11,"date":6,"utc":true},{"year":2024,"month":1,"date":1,"utc":true},{"year":2024,"month":3,"date":4,"utc":true},{"year":2024,"month":5,"date":6,"utc":true},{"year":2024,"month":7,"date":1,"utc":true},{"year":2024,"month":9,"date":2,"utc":true}],
     "labelExpr": "utcmonth(datum.value)==0 ? utcFormat(datum.value,'%Y') : ['Oca','Şub','Mar','Nis','May','Haz','Tem','Ağu','Eyl','Eki','Kas','Ara'][utcmonth(datum.value)]",
     "labelFontWeight": {"condition": {"test": "utcmonth(datum.value)==0", "value": "bold"}, "value": "normal"},
     "labelFontSize": 8, "labelColor": "#131722", "labelPadding": 6, "ticks": false, "domain": false, "grid": true, "gridColor": "#f0f3fa", "title": null}},
  "y": {"field": "ha", "type": "quantitative", "title": null, "scale": {"domain": [-1.05, 1.2], "nice": false, "zero": false}, "axis": {"orient": "right", "labels": false, "ticks": false, "domain": false, "grid": false, "title": null}},
  "y2": {"datum": 0},
  "color": {"condition": {"test": "datum.ha > 0", "value": "#4caf50"}, "value": "#ff5252"}}},
{"data": {"values": [{}]}, "mark": {"type": "text", "text": "HACO_LB (34, 34)", "align": "left", "baseline": "middle", "fontSize": 7.5, "color": "#131722", "dx": 5.7},
 "encoding": {"x": {"datum": {"year":2021,"month":11,"date":19,"hours":4,"utc":true}, "type": "temporal"}, "y": {"datum": 0.128}}},
{"data": {"values": [{}]}, "mark": {"type": "text", "text": "1.00", "align": "left", "baseline": "middle", "fontSize": 7.5, "color": "#2e9e2e", "dx": 76},
 "encoding": {"x": {"datum": {"year":2021,"month":11,"date":19,"hours":4,"utc":true}, "type": "temporal"}, "y": {"datum": 0.128}}},
{"data": {"values": [{}]}, "mark": {"type": "bar", "width": 40, "color": "#1e8c1e", "xOffset": -19},
 "encoding": {"x": {"datum": {"year":2024,"month":11,"date":2,"utc":true}, "type": "temporal"}, "y": {"datum": 1.093}, "y2": {"datum": -0.086}}},
{"data": {"values": [{}]}, "mark": {"type": "text", "text": "HACO_LB", "align": "center", "baseline": "middle", "fontSize": 7.5, "color": "white", "dx": -19},
 "encoding": {"x": {"datum": {"year":2024,"month":11,"date":2,"utc":true}, "type": "temporal"}, "y": {"datum": 0.503}}},
{"data": {"values": [{}]}, "mark": {"type": "bar", "width": 30, "color": "#1e8c1e", "xOffset": 18.5},
 "encoding": {"x": {"datum": {"year":2024,"month":11,"date":2,"utc":true}, "type": "temporal"}, "y": {"datum": 1.093}, "y2": {"datum": -0.086}}},
{"data": {"values": [{}]}, "mark": {"type": "text", "text": "1.00", "align": "center", "baseline": "middle", "fontSize": 8, "color": "white", "dx": 18.5},
 "encoding": {"x": {"datum": {"year":2024,"month":11,"date":2,"utc":true}, "type": "temporal"}, "y": {"datum": 0.503}}},
{"data": {"values": [{}]}, "mark": {"type": "text", "text": "Ka", "align": "center", "baseline": "middle", "fontSize": 8, "color": "#131722", "dx": -3},
 "encoding": {"x": {"datum": {"year":2024,"month":11,"date":4,"utc":true}, "type": "temporal"}, "y": {"datum": -2.12}}},
{"data": {"values": [{}]}, "mark": {"type": "rule", "color": "#e0e3eb", "strokeWidth": 1},
 "encoding": {"x": {"datum": {"year":2021,"month":11,"date":19,"hours":4,"utc":true}, "type": "temporal"}, "x2": {"datum": {"year":2024,"month":12,"date":12,"hours":12,"utc":true}}, "y": {"datum": -3.19}}},
{"data": {"values": [{}]}, "mark": {"type": "text", "text": "17", "align": "left", "baseline": "middle", "fontSize": 10, "fontWeight": "bold", "color": "#131722", "dx": 1},
 "encoding": {"x": {"datum": {"year":2021,"month":11,"date":19,"hours":4,"utc":true}, "type": "temporal"}, "y": {"datum": -4.48}}},
{"data": {"values": [{}]}, "mark": {"type": "text", "text": "TradingView", "align": "left", "baseline": "middle", "fontSize": 9, "color": "#131722", "dx": 17},
 "encoding": {"x": {"datum": {"year":2021,"month":11,"date":19,"hours":4,"utc":true}, "type": "temporal"}, "y": {"datum": -4.48}}}
]
}
]
}
